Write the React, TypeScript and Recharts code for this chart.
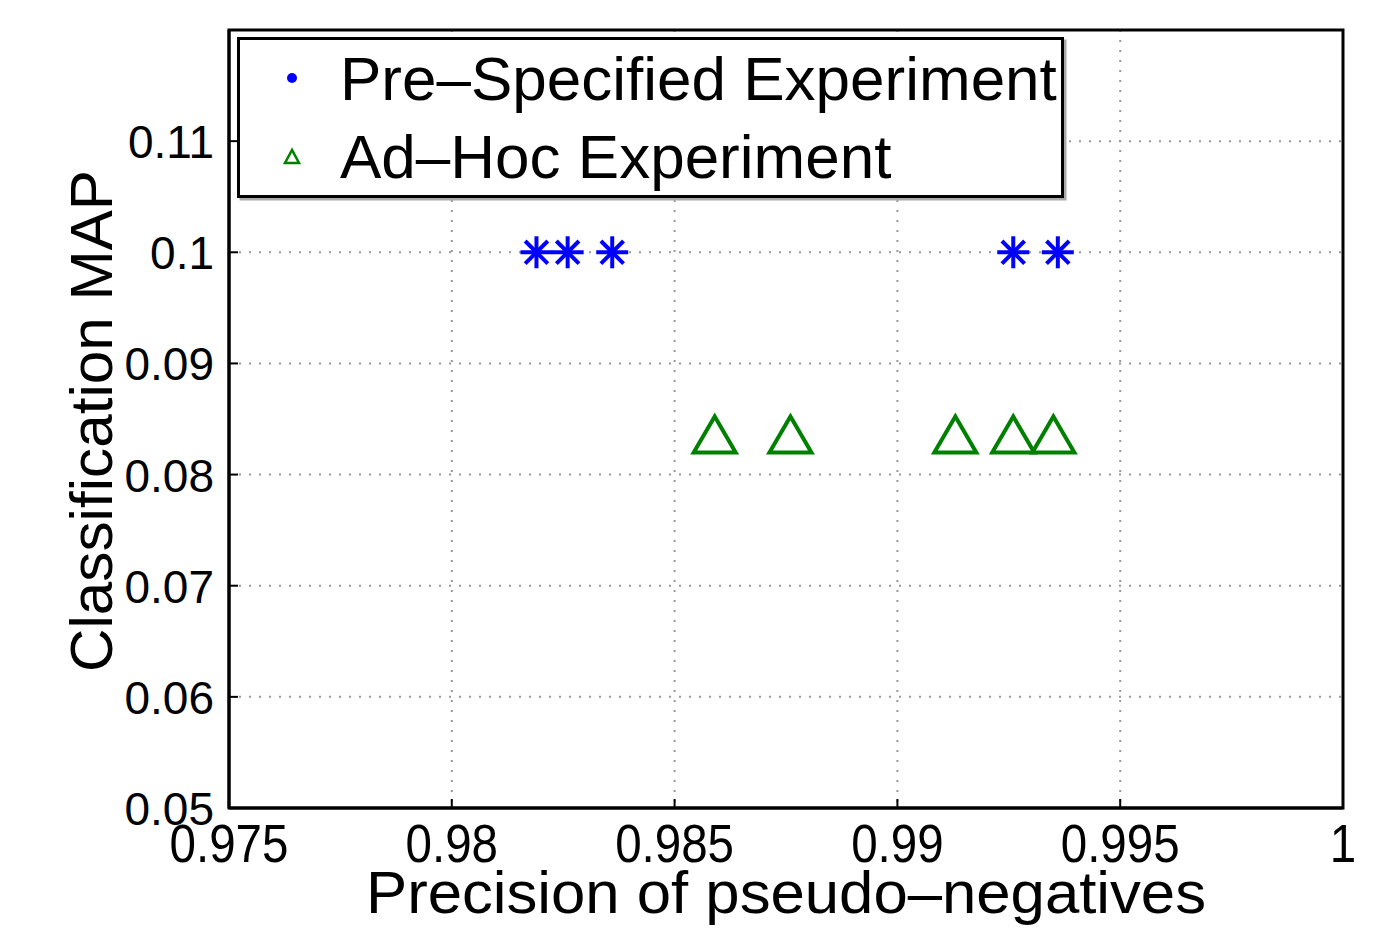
import React from "react";
import {
  ScatterChart,
  Scatter,
  XAxis,
  YAxis,
  CartesianGrid,
  ReferenceArea,
  Legend,
  Label,
} from "recharts";

const FONT = '"Liberation Sans", Arial, Helvetica, sans-serif';

// data
const preSpecX = [0.9819, 0.9826, 0.9836, 0.9926, 0.9936];
const preSpecY = [0.1, 0.1, 0.1, 0.1, 0.1];
const adHocX = [0.9859, 0.9876, 0.9913, 0.9926, 0.9935];
const adHocY = [0.0836, 0.0836, 0.0836, 0.0836, 0.0836];

const xTicks = [0.975, 0.98, 0.985, 0.99, 0.995, 1];
const yTicks = [0.05, 0.06, 0.07, 0.08, 0.09, 0.1, 0.11];
const xDomain = [0.975, 1];
const yDomain = [0.05, 0.12];

const seriesNames = ["Pre\u2013Specified Experiment", "Ad\u2013Hoc Experiment"];
const xTitle = "Precision of pseudo\u2013negatives";
const yTitle = "Classification MAP";

const preSpec = preSpecX.map((x, i) => ({ x, y: preSpecY[i] }));
const adHoc = adHocX.map((x, i) => ({ x, y: adHocY[i] }));

const BLUE = "#0000ff";
const GREEN = "#008000";

function Star(props: any) {
  const { cx, cy } = props;
  const r = 16;
  const d = r * Math.SQRT1_2;
  return (
    <g stroke={BLUE} strokeWidth={4}>
      <line x1={cx - r} y1={cy} x2={cx + r} y2={cy} />
      <line x1={cx} y1={cy - r} x2={cx} y2={cy + r} />
      <line x1={cx - d} y1={cy - d} x2={cx + d} y2={cy + d} />
      <line x1={cx - d} y1={cy + d} x2={cx + d} y2={cy - d} />
    </g>
  );
}

function Triangle(props: any) {
  const { cx, cy } = props;
  const w = 21;
  const h = 18;
  return (
    <polygon
      points={`${cx},${cy - h} ${cx - w},${cy + h} ${cx + w},${cy + h}`}
      fill="none"
      stroke={GREEN}
      strokeWidth={4}
      strokeLinejoin="miter"
    />
  );
}

function XTick(props: any) {
  const { x, y, payload } = props;
  const label = payload.value === 1 ? "1" : String(payload.value);
  return (
    <g>
      <line x1={x} y1={y} x2={x} y2={y - 9} stroke="#000" strokeWidth={2} />
      <text
        transform={`translate(${x}, ${y + 54}) scale(0.88, 1)`}
        textAnchor="middle"
        fontFamily={FONT}
        fontSize={54}
        fill="#000"
      >
        {label}
      </text>
    </g>
  );
}

function YTick(props: any) {
  const { x, y, payload } = props;
  return (
    <g>
      <line x1={x} y1={y} x2={x + 9} y2={y} stroke="#000" strokeWidth={2} />
      <text
        x={x - 15}
        y={y + 17}
        textAnchor="end"
        fontFamily={FONT}
        fontSize={46}
        fill="#000"
      >
        {String(payload.value)}
      </text>
    </g>
  );
}

function LegendBox() {
  return (
    <svg width={830} height={166} style={{ display: "block" }}>
      <rect x={4} y={4} width={824} height={158} fill="none" stroke="#aaa" strokeWidth={3} />
      <rect x={1.5} y={1.5} width={824} height={158} fill="#fff" stroke="#000" strokeWidth={3} />
      <circle cx={55} cy={41} r={5} fill={BLUE} />
      <polygon points="55,113 48,126 62,126" fill="none" stroke={GREEN} strokeWidth={2.5} />
      <text x={103} y={63} fontFamily={FONT} fontSize={62} fill="#000">
        {seriesNames[0]}
      </text>
      <text x={103} y={141} fontFamily={FONT} fontSize={62} fill="#000">
        {seriesNames[1]}
      </text>
    </svg>
  );
}

export default function App() {
  return (
    <div style={{ position: "absolute", left: 0, top: 0, background: "#fff" }}>
      <ScatterChart
        width={1377}
        height={929}
        margin={{ top: 30, right: 34, left: 0, bottom: 0 }}
      >
        <CartesianGrid
          stroke="#999"
          strokeWidth={2}
          strokeDasharray="2 8"
          horizontalValues={yTicks}
          verticalValues={xTicks}
        />
        <XAxis
          type="number"
          dataKey="x"
          domain={xDomain}
          ticks={xTicks}
          height={121}
          tickSize={0}
          tickMargin={0}
          tick={(p: any) => <XTick {...p} />}
          axisLine={{ stroke: "#000", strokeWidth: 3 }}
          tickLine={false}
          interval={0}
          allowDataOverflow
        >
          <Label
            content={(p: any) => {
              const vb = p.viewBox || { x: 229, y: 808, width: 1114 };
              return (
                <text
                  x={vb.x + vb.width / 2}
                  y={vb.y + 105}
                  textAnchor="middle"
                  fontFamily={FONT}
                  fontSize={60}
                  textLength={840}
                  lengthAdjust="spacingAndGlyphs"
                  fill="#000"
                >
                  {xTitle}
                </text>
              );
            }}
          />
        </XAxis>
        <YAxis
          type="number"
          dataKey="y"
          domain={yDomain}
          ticks={yTicks}
          width={229}
          tickSize={0}
          tickMargin={0}
          tick={(p: any) => <YTick {...p} />}
          axisLine={{ stroke: "#000", strokeWidth: 3 }}
          tickLine={false}
          interval={0}
          allowDataOverflow
        >
          <Label
            content={(p: any) => {
              const vb = p.viewBox || { x: 0, y: 30, height: 778 };
              const cx = 92;
              const cy = vb.y + vb.height / 2 + 2;
              return (
                <text
                  x={cx}
                  y={cy}
                  transform={`rotate(-90, ${cx}, ${cy})`}
                  textAnchor="middle"
                  dominantBaseline="central"
                  fontFamily={FONT}
                  fontSize={59}
                  textLength={502}
                  lengthAdjust="spacingAndGlyphs"
                  fill="#000"
                >
                  {yTitle}
                </text>
              );
            }}
          />
        </YAxis>
        <ReferenceArea
          x1={xDomain[0]}
          x2={xDomain[1]}
          y1={yDomain[0]}
          y2={yDomain[1]}
          fill="none"
          fillOpacity={0}
          stroke="#000"
          strokeWidth={3}
        />
        <Scatter
          name={seriesNames[0]}
          data={preSpec}
          shape={(p: any) => <Star {...p} />}
          isAnimationActive={false}
        />
        <Scatter
          name={seriesNames[1]}
          data={adHoc}
          shape={(p: any) => <Triangle {...p} />}
          isAnimationActive={false}
        />
        <Legend
          layout="horizontal"
          verticalAlign="middle"
          align="center"
          content={() => <LegendBox />}
          wrapperStyle={{ position: "absolute", left: 237, top: 37, width: 830, height: 166 }}
        />
      </ScatterChart>
    </div>
  );
}
